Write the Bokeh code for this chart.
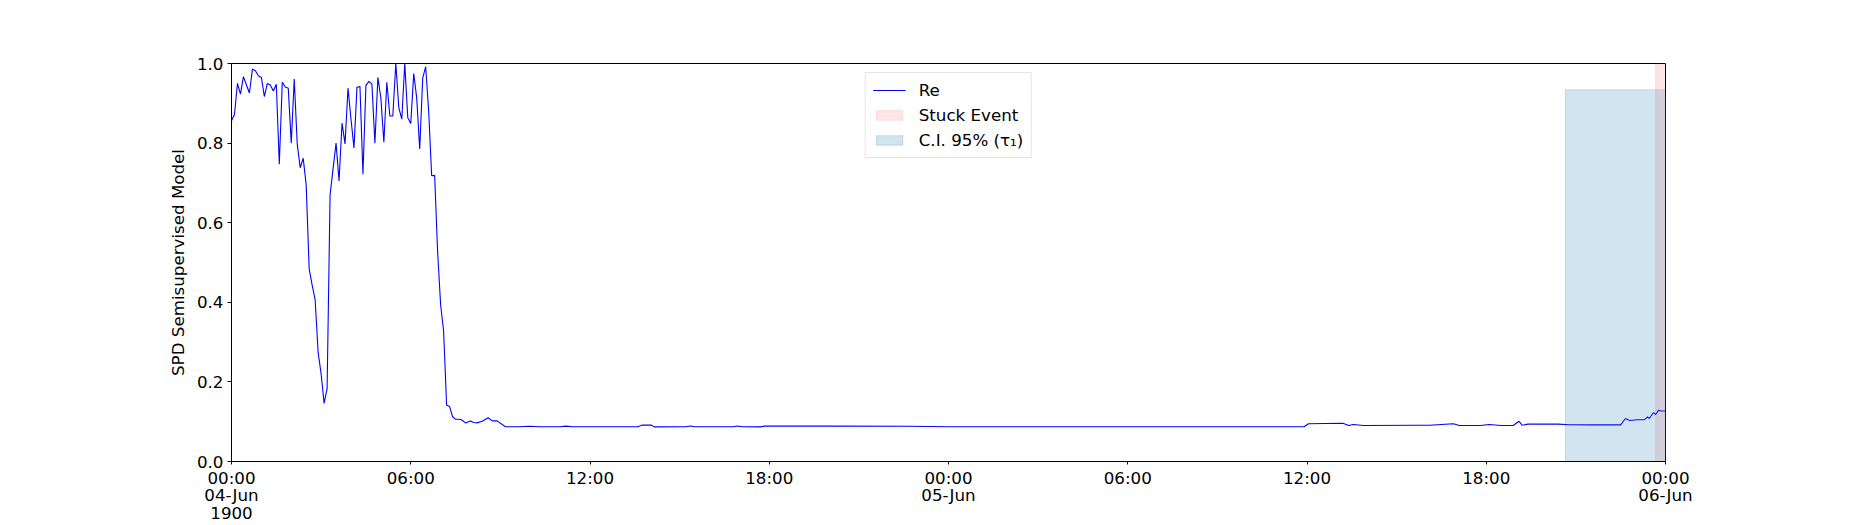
from bokeh.plotting import figure
from bokeh.models import Range1d, FixedTicker, PrintfTickFormatter
from bokeh.embed import file_html
from bokeh.resources import INLINE

# SPD score, sampled every 6 minutes from 04-Jun 00:00 up to 07:42
early_values = [
    0.856, 0.872, 0.950, 0.923, 0.967, 0.946, 0.926, 0.986, 0.982, 0.969,
    0.965, 0.917, 0.950, 0.946, 0.931, 0.948, 0.747, 0.953, 0.941, 0.938,
    0.800, 0.961, 0.798, 0.738, 0.762, 0.695, 0.484, 0.443, 0.406, 0.274,
    0.220, 0.146, 0.183, 0.670, 0.736, 0.800, 0.705, 0.850, 0.798, 0.938,
    0.860, 0.788, 0.940, 0.942, 0.722, 0.945, 0.955, 0.948, 0.800, 0.965,
    0.913, 0.802, 0.953, 0.868, 0.868, 1.000, 0.889, 0.860, 1.000, 0.864,
    0.849, 0.975, 0.913, 0.785, 0.963, 0.992, 0.880, 0.718, 0.719, 0.526,
    0.394, 0.328, 0.142, 0.138, 0.113, 0.106, 0.106, 0.105,
]
sample_step_h = 0.1

# rest of the series (hours after 04-Jun 00:00)
late_hours = [
    7.83, 8.0, 8.1, 8.22, 8.39, 8.59, 8.73, 8.89, 9.17, 9.6,
    10.0, 10.3, 11.0, 11.2, 11.4, 12.5, 13.6, 13.75, 14.05, 14.15,
    15.2, 15.36, 15.5, 16.8, 16.93, 17.1, 17.7, 17.85, 20.0, 22.7,
    24.0, 30.0, 35.4, 35.9, 36.05, 37.2, 37.4, 37.55, 37.9, 39.7,
    40.1, 40.9, 41.1, 41.8, 42.1, 42.5, 42.9, 43.1, 43.2, 43.4,
    44.4, 44.8, 45.5, 46.5, 46.66, 46.8, 47.06, 47.3, 47.4, 47.46,
    47.6, 47.67, 47.77, 47.86, 48.0,
]
late_values = [
    0.097, 0.102, 0.098, 0.097, 0.101, 0.110, 0.102, 0.102, 0.0875, 0.0875,
    0.0885, 0.0875, 0.0875, 0.089, 0.0875, 0.0875, 0.0875, 0.0915, 0.0915, 0.087,
    0.0875, 0.089, 0.0875, 0.0875, 0.089, 0.0875, 0.087, 0.0888, 0.0888, 0.0885,
    0.0875, 0.0875, 0.0875, 0.0875, 0.095, 0.096, 0.0905, 0.093, 0.0905, 0.091,
    0.091, 0.095, 0.0905, 0.0905, 0.093, 0.0905, 0.0905, 0.101, 0.091, 0.094,
    0.094, 0.0925, 0.092, 0.092, 0.108, 0.103, 0.105, 0.105, 0.112, 0.108,
    0.123, 0.118, 0.129, 0.127, 0.127,
]

# shaded spans
stuck_start, stuck_end, stuck_top = 47.67, 48.0, 1.0
ci_start, ci_end, ci_top = 44.65, 48.0, 0.934

tick_hours = [0, 6, 12, 18, 24, 30, 36, 42, 48]
tick_labels = ["00:00\n04-Jun\n1900", "06:00", "12:00", "18:00", "00:00\n05-Jun",
               "06:00", "12:00", "18:00", "00:00\n06-Jun"]

FONT = "DejaVu Sans"
FS = "16.7px"

hours = [i * sample_step_h for i in range(len(early_values))] + late_hours
values = early_values + late_values

p = figure(width=1850, height=525, output_backend="svg", toolbar_location=None,
           x_range=Range1d(0, 48), y_range=Range1d(0, 1),
           min_border_left=231, min_border_right=185,
           min_border_top=63, min_border_bottom=58)
p.grid.grid_line_color = None
p.outline_line_color = "black"
p.outline_line_alpha = 1.0
p.outline_line_width = 1
p.background_fill_color = "white"
p.border_fill_color = "white"

p.line(hours, values, line_color="blue", line_width=1.1, legend_label="Re")
p.quad(left=[stuck_start], right=[stuck_end], bottom=[0], top=[stuck_top],
       fill_color="red", fill_alpha=0.1, line_color="red", line_alpha=0.1,
       legend_label="Stuck Event")
p.quad(left=[ci_start], right=[ci_end], bottom=[0], top=[ci_top],
       fill_color="#1f77b4", fill_alpha=0.2, line_color="#1f77b4", line_alpha=0.2,
       legend_label="C.I. 95% (\u03c4\u2081)")

xa = p.xaxis[0]
xa.ticker = FixedTicker(ticks=tick_hours)
xa.major_label_overrides = dict(zip(tick_hours, tick_labels))
ya = p.yaxis[0]
ya.ticker = FixedTicker(ticks=[0.0, 0.2, 0.4, 0.6, 0.8, 1.0])
ya.formatter = PrintfTickFormatter(format="%.1f")
ya.axis_label = "SPD Semisupervised Model"

for ax in (xa, ya):
    ax.axis_line_color = "black"
    ax.major_tick_line_color = "black"
    ax.major_tick_out = 4
    ax.major_tick_in = 0
    ax.minor_tick_line_color = None
    ax.major_label_standoff = 4
    ax.major_label_text_font = FONT
    ax.major_label_text_font_size = FS
    ax.major_label_text_color = "black"
    ax.axis_label_text_font = FONT
    ax.axis_label_text_font_size = FS
    ax.axis_label_text_font_style = "normal"
    ax.axis_label_text_color = "black"
    ax.axis_label_standoff = 6
xa.major_tick_out = 3
xa.major_label_standoff = 3
xa.major_label_text_line_height = 0.88

lg = p.legend[0]
lg.location = "top_center"
lg.label_text_font = FONT
lg.label_text_font_size = FS
lg.label_text_color = "black"
lg.glyph_width = 33
lg.glyph_height = 12
lg.label_height = 20
lg.label_standoff = 13
lg.spacing = 5
lg.padding = 7
lg.margin = 9
lg.border_line_color = "#cccccc"
lg.border_line_width = 1
lg.background_fill_alpha = 0.8

open("out.html", "w").write(file_html(p, INLINE))
